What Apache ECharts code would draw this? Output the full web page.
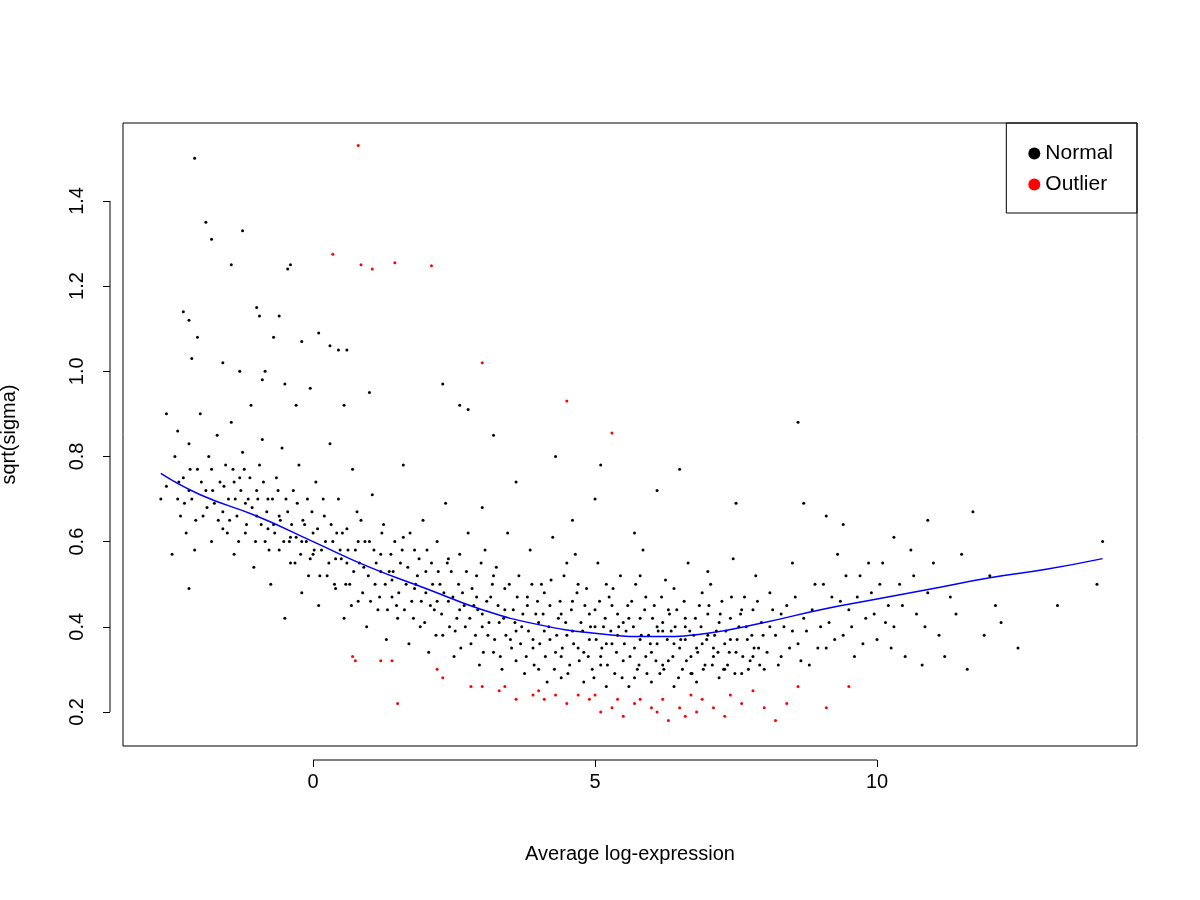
<!DOCTYPE html>
<html><head><meta charset="utf-8">
<script src="https://cdn.jsdelivr.net/npm/echarts@6/dist/echarts.min.js"></script>
<style>html,body{margin:0;background:#fff}#c{width:1200px;height:900px}</style>
</head><body><div id="c"></div>
<script>
const xTicks=[0,5,10];
const yTicks=[0.2,0.4,0.6,0.8,1.0,1.2,1.4];
const normalPoints=[
[-2.1,1.5],[-1.9,1.35],[-1.8,1.31],[-1.25,1.33],[-1.45,1.25],[-0.45,1.24],[-0.4,1.25],[-2.3,1.14],[-2.2,1.12],[-1,1.15],[-0.95,1.13],[-2.05,1.08],[-2.15,1.03],[-0.6,1.13],[-0.7,1.08],[0.1,1.09],[0.3,1.06],[0.45,1.05],[0.6,1.05],[-0.2,1.07],[-1.6,1.02],[-1.3,1.0],[-0.85,1.0],[-0.9,0.98],[-0.5,0.97],[-0.05,0.96],[1.0,0.95],[2.3,0.97],[2.6,0.92],[2.75,0.91],[3.2,0.85],[-0.3,0.92],[0.55,0.92],[-2.6,0.9],[-2.4,0.86],
[-2.7,0.7],[-2.5,0.57],[-2.2,0.49],[-2.6,0.73],[-2.45,0.8],[-2.35,0.66],[-2.3,0.75],[-2.25,0.62],[-2.2,0.83],[-2.15,0.7],[-2.1,0.58],[-2.05,0.77],[-2.0,0.9],[-1.95,0.66],[-1.9,0.72],[-1.85,0.8],[-1.8,0.6],[-1.75,0.69],[-1.7,0.85],[-1.65,0.74],[-1.6,0.63],[-1.55,0.78],[-1.5,0.7],[-1.45,0.88],[-1.4,0.57],[-1.35,0.66],[-1.3,0.75],[-1.25,0.81],[-1.2,0.62],[-1.15,0.7],[-1.1,0.92],[-1.05,0.54],[-1.0,0.66],[-0.95,0.78],[-0.9,0.84],[-0.85,0.6],[-0.8,0.7],[-0.75,0.5],[-0.7,0.64],[-0.65,0.75],[-0.6,0.58],[-0.55,0.82],[-0.5,0.42],[-0.45,0.67],[-0.4,0.55],[-0.35,0.72],[-0.3,0.61],[-0.25,0.78],[-0.2,0.48],[-0.15,0.64],[-0.1,0.7],[-0.05,0.56],[0,0.62],[0.05,0.74],[0.1,0.45],[0.15,0.58],[0.2,0.66],[0.25,0.52],[0.3,0.83],[0.35,0.6],[0.4,0.49],[0.45,0.7],[0.5,0.56],[0.55,0.42],[0.6,0.63],[0.65,0.5],[0.7,0.77],[0.75,0.58],[0.8,0.46],[0.85,0.65],[0.9,0.54],[0.95,0.4],[1.0,0.6],[1.05,0.71],[1.1,0.5],[1.15,0.44],[1.2,0.57],[1.25,0.64],[1.3,0.37],[1.35,0.53],[1.4,0.47],[1.45,0.6],[1.5,0.42],[1.55,0.55],[1.6,0.78],[1.65,0.5],[1.7,0.36],[1.75,0.46],[1.8,0.58],[1.85,0.52],[1.9,0.4],[1.95,0.65],[2.0,0.48],[2.05,0.34],[2.1,0.55],[2.15,0.44],[2.2,0.6],[2.25,0.5],[2.3,0.38],[2.35,0.69],[2.4,0.46],[2.45,0.53],[2.5,0.33],[2.55,0.42],[2.6,0.57],[2.65,0.48],[2.7,0.4],[2.75,0.62],[2.8,0.36],[2.85,0.45],[2.9,0.52],[2.95,0.31],[3.0,0.43],[3.05,0.58],[3.1,0.38],[3.15,0.47],[3.2,0.34],[3.25,0.54],[3.3,0.41],[3.35,0.3],[3.4,0.49],[3.45,0.62],[3.5,0.37],[3.55,0.44],[3.6,0.32],[3.65,0.52],[3.7,0.4],[3.75,0.29],[3.8,0.47],[3.85,0.58],[3.9,0.35],[3.95,0.43],[4.0,0.3],[4.05,0.5],[4.1,0.39],[4.15,0.27],[4.2,0.45],[4.25,0.61],[4.3,0.34],[4.35,0.42],[4.4,0.28],[4.45,0.52],[4.5,0.38],[4.55,0.31],[4.6,0.46],[4.65,0.57],[4.7,0.35],[4.75,0.41],[4.8,0.27],[4.85,0.49],[4.9,0.37],[4.95,0.3],[5.0,0.44],[5.05,0.55],[5.1,0.33],[5.15,0.4],[5.2,0.26],[5.25,0.47],[5.3,0.36],[5.35,0.29],[5.4,0.43],[5.45,0.52],[5.5,0.32],[5.55,0.39],[5.6,0.26],[5.65,0.46],[5.7,0.35],[5.75,0.3],[5.8,0.42],[5.85,0.58],[5.9,0.33],[5.95,0.38],[6.0,0.27],[6.05,0.45],[6.1,0.36],[6.15,0.29],[6.2,0.41],[6.25,0.51],[6.3,0.32],[6.35,0.39],[6.4,0.26],[6.45,0.44],[6.5,0.35],[6.55,0.3],[6.6,0.42],[6.65,0.55],[6.7,0.33],[6.75,0.38],[6.8,0.27],[6.85,0.45],[6.9,0.36],[6.95,0.31],[7.0,0.43],[7.05,0.5],[7.1,0.33],[7.15,0.39],[7.2,0.28],[7.25,0.46],[7.3,0.36],[7.35,0.31],[7.4,0.42],[7.45,0.56],[7.5,0.34],[7.55,0.4],[7.6,0.29],[7.65,0.47],[7.7,0.37],[7.75,0.32],[7.8,0.44],[7.85,0.52],[7.9,0.35],[7.95,0.41],[8.0,0.3],[8.1,0.48],[8.2,0.38],[8.3,0.33],[8.4,0.45],[8.5,0.55],[8.6,0.36],[8.7,0.42],[8.8,0.31],[8.9,0.5],[9.0,0.4],[9.1,0.35],[9.2,0.47],[9.3,0.57],[9.4,0.38],[9.5,0.44],[9.6,0.33],[9.7,0.52],[9.8,0.42],[9.9,0.48],[10.0,0.37],[10.1,0.55],[10.2,0.45],[10.3,0.4],[10.4,0.5],[10.5,0.33],[10.6,0.58],[10.7,0.43],[10.8,0.31],[10.9,0.48],[11.0,0.55],[11.1,0.38],[11.3,0.47],[11.5,0.57],[11.7,0.67],[11.9,0.38],[12.0,0.52],[12.2,0.41],[12.5,0.35],[13.2,0.45],[14.0,0.6],[13.9,0.5],[10.9,0.65],[10.3,0.61],[9.1,0.66],[8.6,0.88],[6.5,0.77],[6.1,0.72],[4.3,0.8],[5.1,0.78],[5.0,0.7],[3.6,0.74],[3.0,0.68],[4.6,0.65],[5.7,0.62],[7.5,0.69],[8.7,0.69],[9.4,0.64],
[3.8,0.45],[4.0,0.41],[4.2,0.37],[4.4,0.43],[4.6,0.39],[4.8,0.34],[5.0,0.4],[5.2,0.36],[5.4,0.38],[5.6,0.42],[5.8,0.37],[6.0,0.34],[6.2,0.39],[6.4,0.36],[6.6,0.4],[6.8,0.35],[7.0,0.38],[7.2,0.41],[7.4,0.37],[4.1,0.48],[4.7,0.5],[5.3,0.45],[5.9,0.47],[6.3,0.44],[6.9,0.48],[7.6,0.44],[4.4,0.33],[5.1,0.31],[5.7,0.28],[6.2,0.31],[6.7,0.29],[7.3,0.3],[7.8,0.33],[3.9,0.37],[8.1,0.4],[8.3,0.43],[8.5,0.39],[4.9,0.43],[5.5,0.41],[6.1,0.4],[6.6,0.37],[7.1,0.35],[5.2,0.5],[5.8,0.52],[6.4,0.49],[7.0,0.53],[4.5,0.55],[3.4,0.44],[3.2,0.52],[2.9,0.47],[2.4,0.56],[2.0,0.53],[1.6,0.61],[1.2,0.53],[0.8,0.6],[0.4,0.56],[-0.2,0.6],[-0.6,0.66],[-1.0,0.72],[-1.4,0.74],[-1.8,0.77],[-2.2,0.72],[-2.4,0.7],[-1.6,0.67],[-1.2,0.69],[-0.8,0.63],[-0.4,0.61],[0.0,0.57],[0.6,0.55],[1.4,0.51],[1.8,0.49],[2.2,0.46],[2.6,0.44],[3.0,0.4],[3.6,0.39],
[3.52,0.35],[3.58,0.41],[3.62,0.47],[3.68,0.36],[3.72,0.43],[3.78,0.33],[3.82,0.39],[3.88,0.5],[3.92,0.31],[3.98,0.46],[4.02,0.36],[4.08,0.43],[4.12,0.33],[4.18,0.4],[4.22,0.51],[4.28,0.3],[4.32,0.38],[4.38,0.46],[4.42,0.35],[4.48,0.41],[4.52,0.29],[4.58,0.44],[4.62,0.36],[4.68,0.48],[4.72,0.32],[4.78,0.39],[4.82,0.45],[4.88,0.33],[4.92,0.4],[4.98,0.28],[5.02,0.37],[5.08,0.46],[5.12,0.35],[5.18,0.42],[5.22,0.31],[5.28,0.39],[5.32,0.49],[5.38,0.34],[5.42,0.4],[5.48,0.28],[5.52,0.36],[5.58,0.45],[5.62,0.33],[5.68,0.4],[5.72,0.5],[5.78,0.31],[5.82,0.38],[5.88,0.44],[5.92,0.29],[5.98,0.36],[6.02,0.42],[6.08,0.32],[6.12,0.39],[6.18,0.47],[6.22,0.3],[6.28,0.37],[6.32,0.43],[6.38,0.33],[6.42,0.4],[6.48,0.28],[6.52,0.37],[6.58,0.46],[6.62,0.32],[6.68,0.39],[6.72,0.29],[6.78,0.42],[6.82,0.34],[6.88,0.4],[6.92,0.3],[6.98,0.37],[7.02,0.45],[7.08,0.31],[7.12,0.38],[7.18,0.34],[7.22,0.43],[7.28,0.3],[7.32,0.39],[7.38,0.34],[7.42,0.47],[7.48,0.29],[7.52,0.37],[7.58,0.43],[7.62,0.33],[7.68,0.4],[7.72,0.3],[7.78,0.38],[7.82,0.35],[7.88,0.46],[7.92,0.31],[7.98,0.38],[8.05,0.34],[8.15,0.44],[8.25,0.31],[8.35,0.4],[8.45,0.35],[8.55,0.47],[8.65,0.32],[8.75,0.39],[8.85,0.44],[8.95,0.35],[9.05,0.5],[9.15,0.41],[9.25,0.37],[9.35,0.46],[9.45,0.52],[9.55,0.4],[9.65,0.47],[9.75,0.36],[9.85,0.55],[9.95,0.43],[10.05,0.5],[10.15,0.41],[10.25,0.35],[10.45,0.45],[10.65,0.52],[10.85,0.4],[11.2,0.33],[11.4,0.43],[11.6,0.3],[12.1,0.45],
[2.52,0.39],[2.58,0.5],[2.62,0.35],[2.68,0.45],[2.72,0.53],[2.78,0.42],[2.82,0.49],[2.88,0.38],[2.92,0.44],[2.98,0.55],[3.02,0.34],[3.08,0.46],[3.12,0.41],[3.18,0.5],[3.22,0.37],[3.28,0.45],[3.32,0.33],[3.38,0.42],[3.42,0.38],[3.48,0.5],[1.52,0.48],[1.58,0.58],[1.62,0.44],[1.68,0.54],[1.72,0.62],[1.78,0.42],[1.82,0.5],[1.88,0.56],[1.92,0.46],[1.98,0.41],[2.02,0.58],[2.08,0.45],[2.12,0.5],[2.18,0.38],[2.22,0.53],[2.28,0.43],[2.32,0.48],[2.38,0.55],[2.42,0.4],[2.48,0.47],[0.52,0.62],[0.58,0.5],[0.62,0.58],[0.68,0.45],[0.72,0.53],[0.78,0.67],[0.82,0.55],[0.88,0.48],[0.92,0.6],[0.98,0.52],[1.02,0.46],[1.08,0.58],[1.12,0.55],[1.18,0.47],[1.22,0.62],[1.28,0.5],[1.32,0.44],[1.38,0.57],[1.42,0.53],[1.48,0.45],[-0.48,0.7],[-0.42,0.6],[-0.38,0.64],[-0.32,0.55],[-0.28,0.69],[-0.22,0.57],[-0.18,0.65],[-0.12,0.6],[-0.08,0.52],[-0.02,0.67],[0.02,0.58],[0.08,0.63],[0.12,0.52],[0.18,0.7],[0.22,0.6],[0.28,0.55],[0.32,0.64],[0.38,0.5],[0.42,0.62],[0.48,0.58],[-1.48,0.65],[-1.42,0.77],[-1.38,0.7],[-1.32,0.6],[-1.28,0.72],[-1.22,0.77],[-1.18,0.64],[-1.12,0.75],[-1.08,0.68],[-1.02,0.6],[-0.98,0.7],[-0.92,0.64],[-0.88,0.74],[-0.82,0.67],[-0.78,0.58],[-0.72,0.7],[-0.68,0.62],[-0.62,0.72],[-0.58,0.65],[-0.52,0.6],[-2.38,0.74],[-2.28,0.69],[-2.18,0.77],[-2.08,0.65],[-1.98,0.74],[-1.88,0.68],[-1.78,0.72],[-1.68,0.65],[-1.58,0.73],[-1.52,0.62]
];
const outlierPoints=[
[0.8,1.53],[0.35,1.275],[0.85,1.25],[1.05,1.24],[1.45,1.255],[2.1,1.248],[3.0,1.02],[4.5,0.93],[5.3,0.855],
[0.7,0.33],[0.75,0.32],[1.2,0.32],[1.4,0.32],[1.5,0.22],[2.2,0.3],[2.3,0.28],[2.8,0.26],[3.0,0.26],[3.3,0.25],[3.4,0.26],[3.6,0.23],[3.9,0.24],[4.0,0.25],[4.1,0.23],[4.3,0.24],[4.5,0.22],[4.7,0.24],[4.9,0.23],[5.0,0.24],[5.1,0.2],[5.3,0.21],[5.4,0.23],[5.5,0.19],[5.7,0.22],[5.8,0.23],[6.0,0.21],[6.1,0.2],[6.2,0.23],[6.3,0.18],[6.5,0.21],[6.6,0.19],[6.7,0.24],[6.8,0.2],[6.9,0.23],[7.1,0.21],[7.3,0.19],[7.4,0.24],[7.6,0.22],[7.8,0.25],[8.0,0.21],[8.2,0.18],[8.4,0.22],[8.6,0.26],[9.1,0.21],[9.5,0.26]
];
const trendX=[-2.7,-2,-1,0,1,2,3,4,5,6,7,8,9,10,11,12,13,14];
const trendY=[0.76,0.71,0.66,0.60,0.54,0.49,0.44,0.405,0.385,0.377,0.385,0.41,0.44,0.465,0.49,0.515,0.535,0.56];

const chart=echarts.init(document.getElementById('c'));
const F='Liberation Sans, Arial, sans-serif';
chart.setOption({
  animation:false,
  grid:{left:123,right:63,top:123,bottom:154,outerBoundsMode:'none',containLabel:false,show:true,borderColor:'#000',borderWidth:1,backgroundColor:'transparent'},
  xAxis:{type:'value',min:-3.37,max:14.61,name:'Average log-expression',nameLocation:'middle',nameGap:84,
    nameTextStyle:{fontFamily:F,fontSize:20,color:'#000'},
    splitLine:{show:false},axisLine:{show:false,onZero:false},offset:14,
    axisTick:{show:true,length:7,lineStyle:{color:'#000'},customValues:xTicks},
    axisLabel:{fontFamily:F,fontSize:20,color:'#000',margin:12,customValues:xTicks,formatter:v=>String(v)}},
  yAxis:{type:'value',min:0.12,max:1.583,name:'sqrt(sigma)',nameLocation:'middle',nameGap:91,
    nameTextStyle:{fontFamily:F,fontSize:20,color:'#000'},
    splitLine:{show:false},axisLine:{show:false,onZero:false},offset:13,
    axisTick:{show:true,length:7,lineStyle:{color:'#000'},customValues:yTicks},
    axisLabel:{fontFamily:F,fontSize:20,color:'#000',rotate:90,margin:23,customValues:yTicks,formatter:v=>v.toFixed(1)}},
  legend:{right:63,top:123,orient:'vertical',borderColor:'#000',borderWidth:1,borderRadius:0,
    padding:[20,24,18,22],itemGap:10,itemWidth:12,itemHeight:12,
    textStyle:{fontFamily:F,fontSize:21,color:'#000'},
    data:[{name:'Normal',icon:'circle'},{name:'Outlier',icon:'circle'}]},
  series:[
    {name:'Normal',type:'scatter',data:normalPoints,symbolSize:3,itemStyle:{color:'#000',opacity:1}},
    {name:'Outlier',type:'scatter',data:outlierPoints,symbolSize:3,itemStyle:{color:'#ff0000',opacity:1}},
    {name:'trend',type:'line',data:trendX.map((x,i)=>[x,trendY[i]]),smooth:true,showSymbol:false,lineStyle:{color:'#0000ff',width:1.5}}
  ]
});
const a=chart.convertToPixel({gridIndex:0},[0,0.2]);
const b=chart.convertToPixel({gridIndex:0},[10,1.4]);
chart.setOption({graphic:[
  {type:'line',shape:{x1:a[0],y1:760,x2:b[0],y2:760},style:{stroke:'#000',lineWidth:1}},
  {type:'line',shape:{x1:110,y1:a[1],x2:110,y2:b[1]},style:{stroke:'#000',lineWidth:1}}
]});
</script></body></html>
